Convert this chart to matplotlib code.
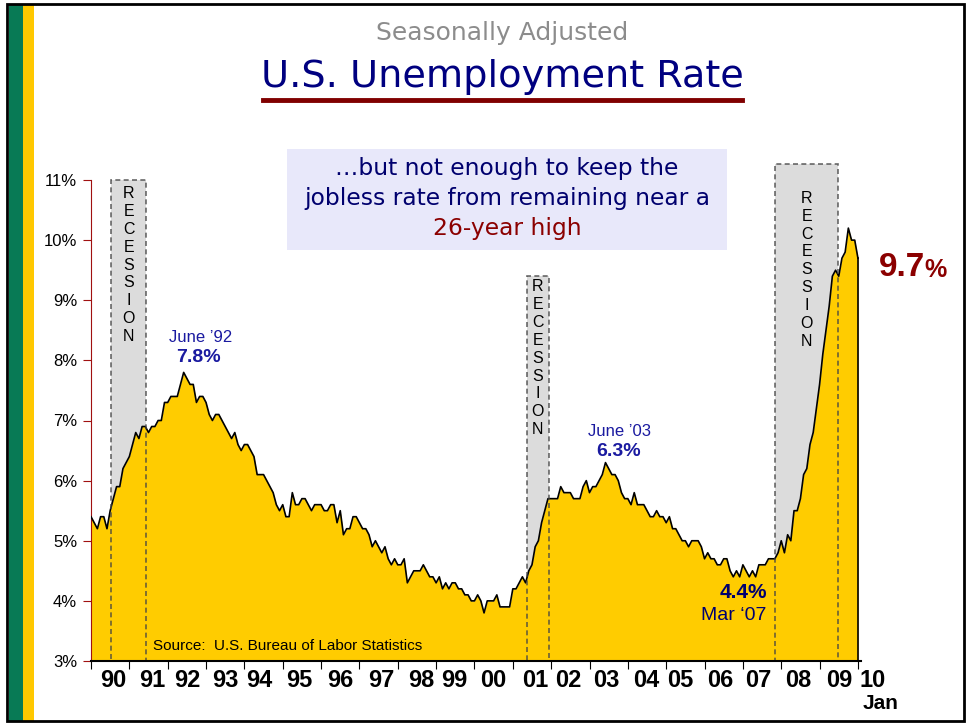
import numpy as np
import matplotlib.pyplot as plt
from matplotlib.patches import Rectangle

# unemployment rate, seasonally adjusted, monthly from Jan 1990
rate_1990_1994 = [5.4, 5.3, 5.2, 5.4, 5.4, 5.2, 5.5, 5.7, 5.9, 5.9, 6.2, 6.3,
                  6.4, 6.6, 6.8, 6.7, 6.9, 6.9, 6.8, 6.9, 6.9, 7.0, 7.0, 7.3,
                  7.3, 7.4, 7.4, 7.4, 7.6, 7.8, 7.7, 7.6, 7.6, 7.3, 7.4, 7.4,
                  7.3, 7.1, 7.0, 7.1, 7.1, 7.0, 6.9, 6.8, 6.7, 6.8, 6.6, 6.5,
                  6.6, 6.6, 6.5, 6.4, 6.1, 6.1, 6.1, 6.0, 5.9, 5.8, 5.6, 5.5]
rate_1995_1999 = [5.6, 5.4, 5.4, 5.8, 5.6, 5.6, 5.7, 5.7, 5.6, 5.5, 5.6, 5.6,
                  5.6, 5.5, 5.5, 5.6, 5.6, 5.3, 5.5, 5.1, 5.2, 5.2, 5.4, 5.4,
                  5.3, 5.2, 5.2, 5.1, 4.9, 5.0, 4.9, 4.8, 4.9, 4.7, 4.6, 4.7,
                  4.6, 4.6, 4.7, 4.3, 4.4, 4.5, 4.5, 4.5, 4.6, 4.5, 4.4, 4.4,
                  4.3, 4.4, 4.2, 4.3, 4.2, 4.3, 4.3, 4.2, 4.2, 4.1, 4.1, 4.0]
rate_2000_2004 = [4.0, 4.1, 4.0, 3.8, 4.0, 4.0, 4.0, 4.1, 3.9, 3.9, 3.9, 3.9,
                  4.2, 4.2, 4.3, 4.4, 4.3, 4.5, 4.6, 4.9, 5.0, 5.3, 5.5, 5.7,
                  5.7, 5.7, 5.7, 5.9, 5.8, 5.8, 5.8, 5.7, 5.7, 5.7, 5.9, 6.0,
                  5.8, 5.9, 5.9, 6.0, 6.1, 6.3, 6.2, 6.1, 6.1, 6.0, 5.8, 5.7,
                  5.7, 5.6, 5.8, 5.6, 5.6, 5.6, 5.5, 5.4, 5.4, 5.5, 5.4, 5.4]
rate_2005_2010 = [5.3, 5.4, 5.2, 5.2, 5.1, 5.0, 5.0, 4.9, 5.0, 5.0, 5.0, 4.9,
                  4.7, 4.8, 4.7, 4.7, 4.6, 4.6, 4.7, 4.7, 4.5, 4.4, 4.5, 4.4,
                  4.6, 4.5, 4.4, 4.5, 4.4, 4.6, 4.6, 4.6, 4.7, 4.7, 4.7, 4.8,
                  5.0, 4.8, 5.1, 5.0, 5.5, 5.5, 5.7, 6.1, 6.2, 6.6, 6.8, 7.2,
                  7.6, 8.1, 8.5, 8.9, 9.4, 9.5, 9.4, 9.7, 9.8, 10.2, 10.0, 10.0,
                  9.7]

year_labels = ['90', '91', '92', '93', '94', '95', '96', '97', '98', '99',
               '00', '01', '02', '03', '04', '05', '06', '07', '08', '09', '10']
yticks = [3, 4, 5, 6, 7, 8, 9, 10, 11]

recession_start = [1990.53, 2001.37, 2007.85]
recession_end = [1991.43, 2001.94, 2009.49]
recession_top = [11.0, 9.4, 11.27]
recession_label_top = [10.9, 9.35, 10.82]

rate = np.array(rate_1990_1994 + rate_1995_1999 + rate_2000_2004 + rate_2005_2010)
t = 1990 + np.arange(len(rate)) / 12

W, H = 969, 723


def fx(x):
    return x / W


def fy(y):
    return 1 - y / H


fig = plt.figure(figsize=(W / 100, H / 100), dpi=100)
ax = fig.add_axes([fx(91), fy(661), (861 - 91) / W, (661 - 180) / H])

# frame and side stripes
fig.add_artist(Rectangle((fx(9), fy(721)), fx(14), (721 - 5) / H, transform=fig.transFigure,
                         facecolor='#087a55', edgecolor='none'))
fig.add_artist(Rectangle((fx(23), fy(721)), fx(11), (721 - 5) / H, transform=fig.transFigure,
                         facecolor='#ffc800', edgecolor='none'))
fig.add_artist(Rectangle((fx(7), fy(721)), fx(964 - 7), (721 - 4) / H, transform=fig.transFigure,
                         facecolor='none', edgecolor='black', linewidth=2))

sans = 'Liberation Sans'

# titles
fig.text(fx(502), fy(33), 'Seasonally Adjusted', ha='center', va='center',
         fontsize=18, color='#8c8c8c', family='DejaVu Sans')
fig.text(fx(502), fy(77), 'U.S. Unemployment Rate', ha='center', va='center',
         fontsize=27.5, color='#000080', family='DejaVu Sans')
fig.add_artist(plt.Line2D([fx(263), fx(742)], [fy(100), fy(100)], color='#800000', linewidth=3.5))

# lavender note
fig.add_artist(Rectangle((fx(287), fy(250)), fx(727 - 287), (250 - 149) / H, transform=fig.transFigure,
                         facecolor='#e8e8fa', edgecolor='none'))
fig.text(fx(507), fy(168), '\u2026but not enough to keep the', ha='center', va='center',
         fontsize=16.8, color='#00006e', family='DejaVu Sans')
fig.text(fx(507), fy(199), 'jobless rate from remaining near a', ha='center', va='center',
         fontsize=16.8, color='#00006e', family='DejaVu Sans')
fig.text(fx(507), fy(229), '26-year high', ha='center', va='center',
         fontsize=16.8, color='#8b0000', family='DejaVu Sans')

# recession boxes (fill behind, dashed outline on top)
for s, e, top in zip(recession_start, recession_end, recession_top):
    ax.add_patch(Rectangle((s, 3), e - s, top - 3, facecolor='#dcdcdc', edgecolor='none',
                           zorder=1, clip_on=False))
    ax.add_patch(Rectangle((s, 3), e - s, top - 3, facecolor='none', edgecolor='#444444',
                           linestyle=(0, (3, 2)), linewidth=1.2, alpha=0.8, zorder=4, clip_on=False))

rec_letters = '\n'.join('RECESSION')
for s, e, lt in zip(recession_start, recession_end, recession_label_top):
    ax.text((s + e) / 2, lt, rec_letters, ha='center', va='top', fontsize=11.5,
            family=sans, linespacing=1.24, zorder=5)

ax.fill_between(t, 3, rate, color='#ffcc00', linewidth=0, zorder=2)
ax.plot(t, rate, color='black', linewidth=1.2, zorder=3)
ax.plot([t[-1], t[-1]], [rate[-1], 3], color='black', linewidth=1.2, zorder=3)

ax.set_xlim(1990, 2010.08)
ax.set_ylim(3, 11)
ax.patch.set_visible(False)
for side in ['top', 'right']:
    ax.spines[side].set_visible(False)
ax.spines['left'].set_color('#a01010')
ax.spines['bottom'].set_color('black')
ax.spines['bottom'].set_linewidth(1.5)
ax.spines['bottom'].set_zorder(6)

ax.set_yticks(yticks)
ax.set_yticklabels([f'{v}%' for v in yticks], family=sans, fontsize=12)
ax.tick_params(axis='y', colors='#a01010', labelcolor='black', length=6, pad=4)
ax.set_xticks(np.arange(1990, 2011))
ax.set_xticklabels([])
ax.tick_params(axis='x', length=6, color='black')

label_pos = [0.57, 1.59, 2.5, 3.5, 4.4, 5.42, 6.5, 7.56, 8.6, 9.46, 10.5,
             11.58, 12.44, 13.45, 14.47, 15.36, 16.4, 17.4, 18.44, 19.5, 20.39]
for p, lab in zip(label_pos, year_labels):
    ax.text(1990 + p, -0.04, lab, transform=ax.get_xaxis_transform(), ha='center', va='center',
            fontsize=17, fontweight='bold', family=sans)
ax.text(1990 + 20.6, -0.088, 'Jan', transform=ax.get_xaxis_transform(), ha='center', va='center',
        fontsize=15, fontweight='bold', family=sans)

# point annotations
fig.text(fx(201), fy(338), "June \u201992", ha='center', va='center', fontsize=12,
         color='#1a1aa0', family=sans)
fig.text(fx(198), fy(358), '7.8%', ha='center', va='center', fontsize=14, fontweight='bold',
         color='#1a1aa0', family=sans)
fig.text(fx(620), fy(432), "June \u201903", ha='center', va='center', fontsize=12,
         color='#1a1aa0', family=sans)
fig.text(fx(619), fy(452), '6.3%', ha='center', va='center', fontsize=14, fontweight='bold',
         color='#1a1aa0', family=sans)
fig.text(fx(767), fy(592), '4.4%', ha='right', va='center', fontsize=15, fontweight='bold',
         color='#00006e', family=sans)
fig.text(fx(766), fy(615), "Mar \u201807", ha='right', va='center', fontsize=14,
         color='#00006e', family=sans)
fig.text(fx(925), fy(267), '9.7', ha='right', va='center', fontsize=24, fontweight='bold',
         color='#8b0000', family=sans)
fig.text(fx(924), fy(270), '%', ha='left', va='center', fontsize=18, fontweight='bold',
         color='#8b0000', family=sans)

fig.text(fx(153), fy(646), 'Source:  U.S. Bureau of Labor Statistics', ha='left', va='center',
         fontsize=11, family=sans)

fig.savefig('out.png', dpi=100)
